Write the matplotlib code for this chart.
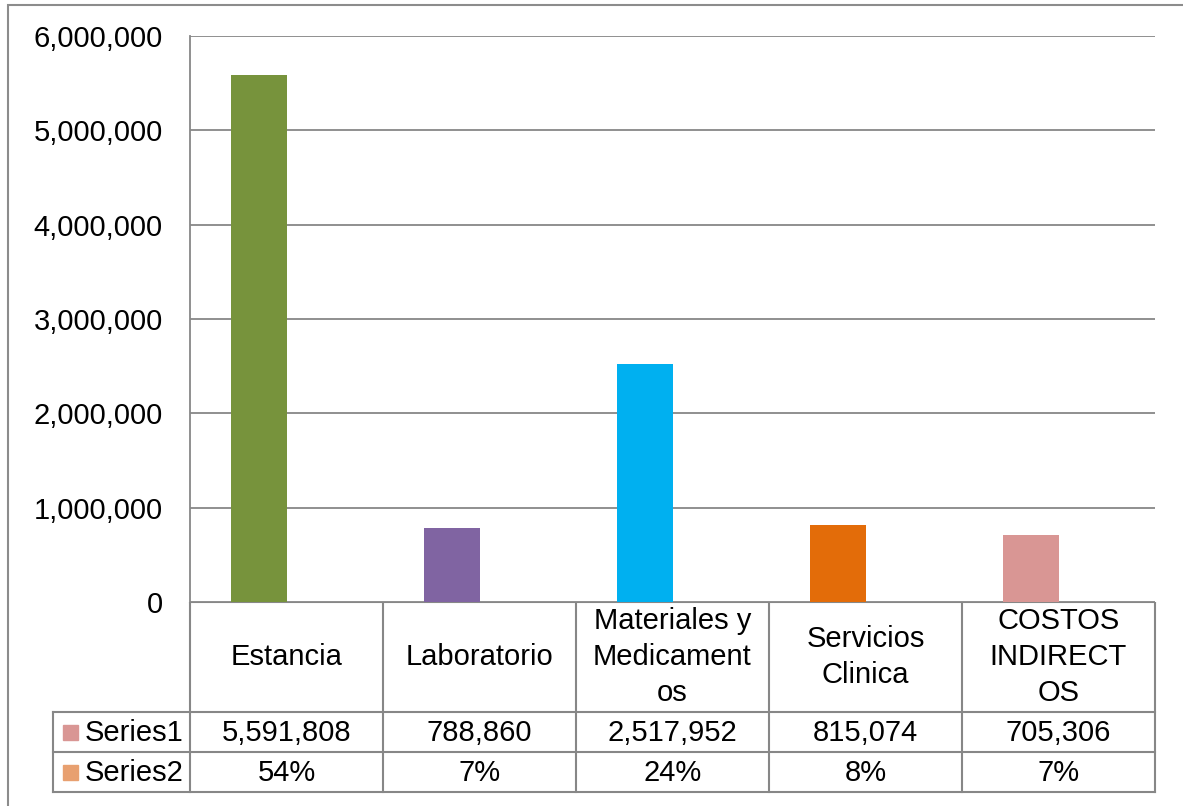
import matplotlib.pyplot as plt
from matplotlib.patches import Rectangle
from matplotlib.ticker import FuncFormatter

plt.rcParams['font.family'] = ['Liberation Sans', 'DejaVu Sans']

categories = ['Estancia', 'Laboratorio', 'Materiales y\nMedicament\nos',
              'Servicios\nClinica', 'COSTOS\nINDIRECT\nOS']
series1 = [5591808, 788860, 2517952, 815074, 705306]
series2 = [0.54, 0.07, 0.24, 0.08, 0.07]
series2_labels = ['54%', '7%', '24%', '8%', '7%']
bar_colors = ['#77933C', '#8064A2', '#00B0F0', '#E36C09', '#D99694']
yticks = [0, 1000000, 2000000, 3000000, 4000000, 5000000, 6000000]

W, H = 1183, 806
fig = plt.figure(figsize=(W / 100, H / 100), dpi=100)
grid_c = '#878787'
fs = 21

# pixel box -> figure fraction
def box(x0, y0, x1, y1):
    return [x0 / W, 1 - y1 / H, (x1 - x0) / W, (y1 - y0) / H]

# outer chart border (extends beyond the picture)
fig.patches.append(Rectangle((8 / W, -0.1), 1.2, 1 - 5 / H + 0.1, transform=fig.transFigure,
                             fill=False, edgecolor='#8c8c8c', linewidth=1.5))

# main plot (clustered: series1 left, series2 right - tiny, invisible)
ax = fig.add_axes(box(190, 36, 1155, 602))
x = list(range(len(series1)))
bw = 0.29
ax.bar([i - bw / 2 for i in x], series1, width=bw, color=bar_colors, zorder=3)
ax.bar([i + bw / 2 for i in x], series2, width=bw, color='#F79646', zorder=3)
ax.set_xlim(-0.5, len(series1) - 0.5)
ax.set_ylim(0, 6000000)
ax.set_yticks(yticks)
ax.yaxis.set_major_formatter(FuncFormatter(lambda v, p: f'{int(v):,}'))
ax.tick_params(axis='y', length=0, pad=19.5, labelsize=fs)
ax.set_xticks([])
ax.grid(axis='y', color=grid_c, linewidth=1.3, zorder=0)
for s in ['top', 'right', 'bottom']:
    ax.spines[s].set_visible(False)
ax.spines['left'].set_color(grid_c)
ax.spines['left'].set_linewidth(1.3)

# data table
tx = fig.add_axes(box(0, 602, W, 806))
tx.set_xlim(0, W)
tx.set_ylim(806 - 602, 0)
tx.axis('off')
c0, c1 = 190, 1155
cw = (c1 - c0) / len(categories)
r_cat, r1, r2 = 110, 150, 190
lw = 1.5
tx.plot([c0, c1], [0, 0], color=grid_c, lw=lw)
for r in [r_cat, r1, r2]:
    tx.plot([53, c1], [r, r], color=grid_c, lw=lw)
tx.plot([53, 53], [r_cat, r2], color=grid_c, lw=lw)
for i in range(len(categories) + 1):
    tx.plot([c0 + i * cw] * 2, [0, r2], color=grid_c, lw=lw)

for i, cat in enumerate(categories):
    cx = c0 + (i + 0.5) * cw
    tx.text(cx, r_cat / 2, cat, ha='center', va='center', fontsize=fs, linespacing=1.35)
    tx.text(cx, (r_cat + r1) / 2 + 1, f'{series1[i]:,}', ha='center', va='center', fontsize=fs)
    tx.text(cx, (r1 + r2) / 2 + 1, series2_labels[i], ha='center', va='center', fontsize=fs)

# legend keys in the table
tx.add_patch(Rectangle((63, (r_cat + r1) / 2 - 7), 15, 15, color='#D99694'))
tx.add_patch(Rectangle((63, (r1 + r2) / 2 - 7), 15, 15, color='#E8A070'))
tx.text(85, (r_cat + r1) / 2 + 1, 'Series1', ha='left', va='center', fontsize=fs)
tx.text(85, (r1 + r2) / 2 + 1, 'Series2', ha='left', va='center', fontsize=fs)

plt.savefig('out.png', dpi=100)
